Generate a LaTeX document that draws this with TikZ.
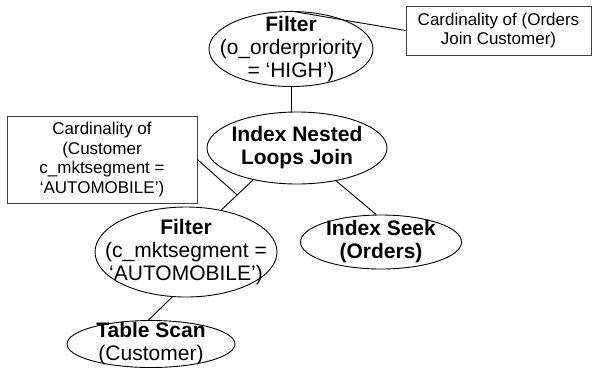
\documentclass[tikz,border=0pt]{standalone}
\usepackage{fontspec}
\setmainfont{Liberation Sans}
\usetikzlibrary{shapes.geometric}
\newcommand*{\opfont}{\fontsize{21}{23}\selectfont}
\newcommand*{\notefont}{\fontsize{17}{19.5}\selectfont}

\begin{document}
\begin{tikzpicture}[x=1pt, y=-1pt]
	\tikzstyle{operator}=[ellipse, draw=black, line width=0.9pt, inner sep=0pt]
	\tikzstyle{optext}=[font=\opfont, align=center, inner sep=0pt]
	\tikzstyle{note}=[rectangle, draw=black!75, line width=0.9pt, font=\notefont, align=center]
	\tikzstyle{line}=[-, line width=0.9pt]
	\useasboundingbox (0,0) rectangle (592,368);
	\node (FilterOrders) [operator, minimum width=164, minimum height=75,
	label={[optext]center:{\textbf{Filter}\\(o\_orderpriority\\= ‘HIGH’)}}] at (291,49) {};
	\node (NestedLoops) [operator, minimum width=180, minimum height=72,
	label={[optext]center:{\textbf{Index Nested}\\\textbf{Loops Join}}}] at (297,148) {};
	\node (IndexSeek) [operator, minimum width=161, minimum height=54,
	label={[optext]center:{\textbf{Index Seek}\\\textbf{(Orders)}}}] at (381,242) {};
	\node (FilterCustomer) [operator, minimum width=182, minimum height=90,
	label={[optext]center:{\textbf{Filter}\\(c\_mktsegment =\\‘AUTOMOBILE’)}}] at (186,252) {};
	\node (TableScan) [operator, minimum width=168, minimum height=47,
	label={[optext]center:{\textbf{Table Scan}\\(Customer)}}] at (151,344) {};
	\node (CardJoin) [note, minimum width=185, minimum height=49] at (498.5,30.5)
	{Cardinality of (Orders\\Join Customer)};
	\node (CardCustomer) [note, minimum width=190, minimum height=87] at (102,159.5)
	{Cardinality of\\(Customer\\c\_mktsegment =\\‘AUTOMOBILE’)};
	
	\draw[line] (FilterOrders.south) -- (FilterOrders.south |- NestedLoops.north);
	\draw[line] (NestedLoops.216) -- coordinate[midway] (CustomerEdge) (FilterCustomer.50);
	\draw[line] (NestedLoops.320) -- (IndexSeek.100);
	\draw[line] (FilterCustomer.253) -- (TableScan.96);
	\draw[line] (CardJoin.west) -- (FilterOrders.north);
	\draw[line] (CardCustomer.east) -- (CustomerEdge);
\end{tikzpicture}
\end{document}
